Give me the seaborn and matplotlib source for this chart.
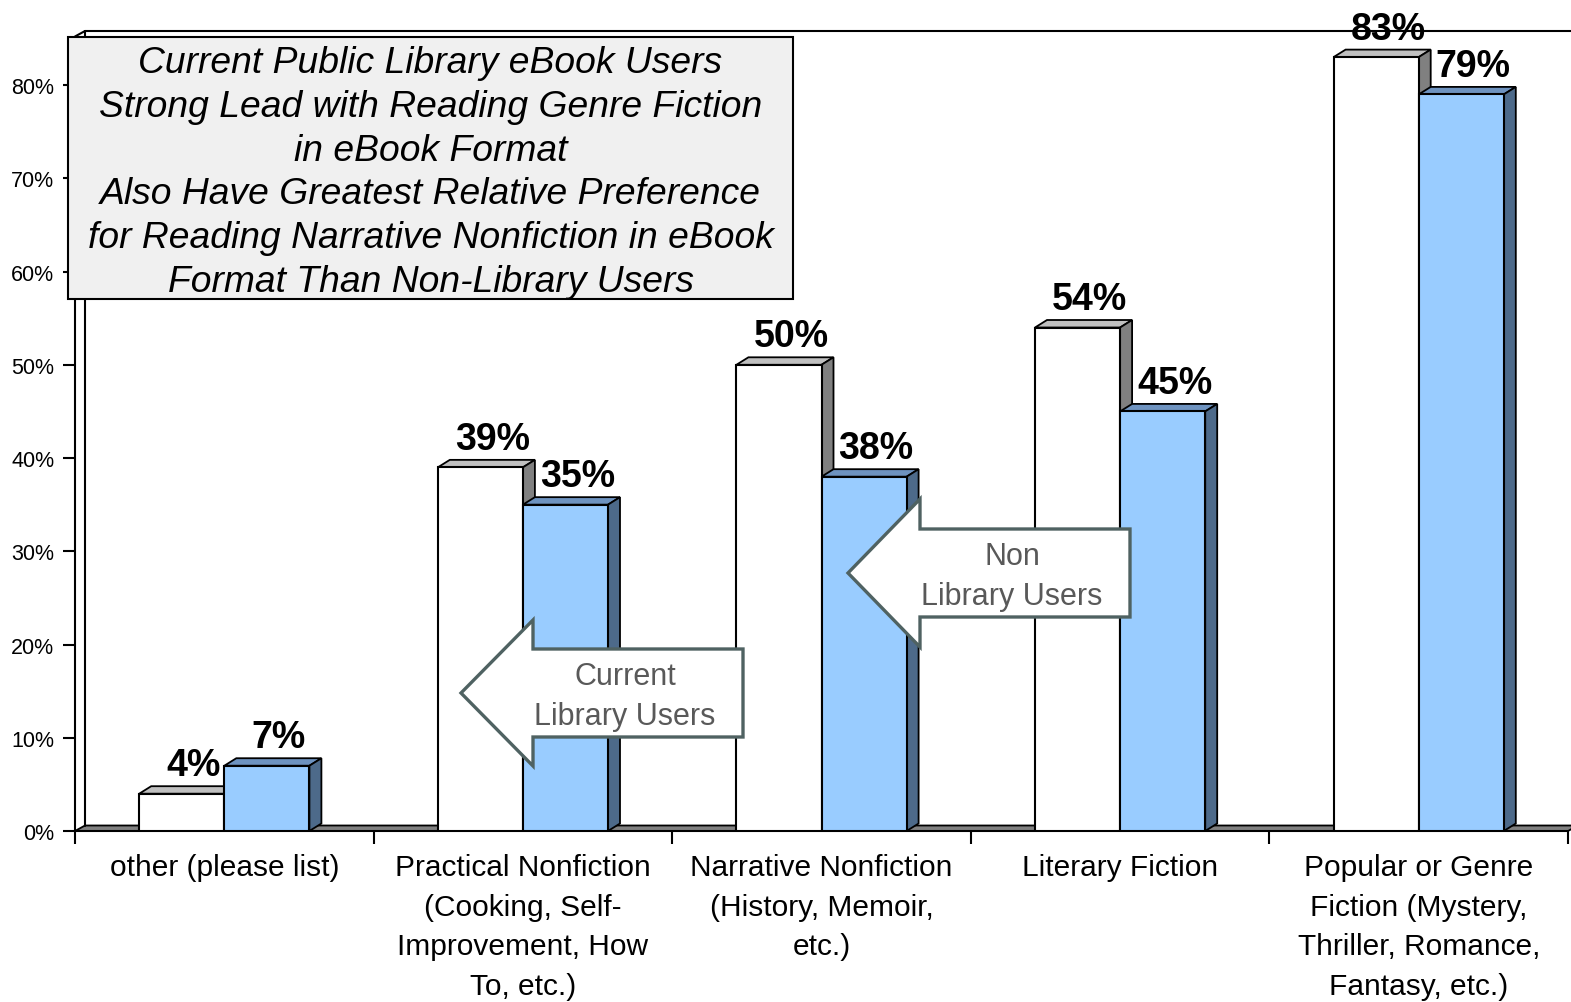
import pandas as pd
import matplotlib
matplotlib.use('Agg')
import matplotlib.pyplot as plt
from matplotlib.patches import Polygon, Rectangle
import seaborn as sns

# data
categories = ['other (please list)',
              'Practical Nonfiction\n(Cooking, Self-\nImprovement, How\nTo, etc.)',
              'Narrative Nonfiction\n(History, Memoir,\netc.)',
              'Literary Fiction',
              'Popular or Genre\nFiction (Mystery,\nThriller, Romance,\nFantasy, etc.)']
current_users = [4, 39, 50, 54, 83]
non_users = [7, 35, 38, 45, 79]
groups = ['Current Library Users', 'Non Library Users']
y_ticks = [0, 10, 20, 30, 40, 50, 60, 70, 80]
y_tick_labels = [f'{t}%' for t in y_ticks]
title_text = ('Current Public Library eBook Users\n'
              'Strong Lead with Reading Genre Fiction\n'
              'in eBook Format\n'
              'Also Have Greatest Relative Preference\n'
              'for Reading Narrative Nonfiction in eBook\n'
              'Format Than Non-Library Users')

df = pd.DataFrame({
    'Category': categories * 2,
    'Group': [groups[0]] * len(categories) + [groups[1]] * len(categories),
    'Share': current_users + non_users,
})

sns.set_style('white')
plt.rcParams['font.family'] = ['Liberation Sans', 'DejaVu Sans']
plt.rcParams['text.color'] = 'black'
plt.rcParams['xtick.color'] = 'black'
plt.rcParams['ytick.color'] = 'black'

W, H = 1571, 1003
fig = plt.figure(figsize=(W / 100, H / 100), dpi=100)
ax = fig.add_axes([75 / W, 1 - 832 / H, (1568 - 75) / W, (832 - 32) / H])

sns.barplot(data=df, x='Category', y='Share', hue='Group',
            palette=['#FFFFFF', '#99CCFF'], width=0.57, saturation=1,
            edgecolor='black', linewidth=1.5, legend=False, ax=ax)

xl, xr = -0.5, len(categories) - 0.5
top = 85.8
ax.set_xlim(xl, xr)
ax.set_ylim(0, top)
for s in ax.spines.values():
    s.set_visible(False)
ax.set_xlabel('')
ax.set_ylabel('')

# pixel -> data unit helpers for the fake 3D depth
pos = ax.get_position()
ppx = W * pos.width / (xr - xl)
ppy = H * pos.height / top
dx, dy = 12 / ppx, 7.5 / ppy
fdx, fdy = 10 / ppx, 5.5 / ppy

# floor and back wall
ax.add_patch(Polygon([(xl, 0), (xr, 0), (xr + fdx, fdy), (xl + fdx, fdy)],
                     closed=True, facecolor='#808080', edgecolor='black',
                     lw=1.3, zorder=1, clip_on=False))
ax.plot([xl, xl, xl + fdx], [0, top - fdy, top], color='black', lw=1.5,
        clip_on=False, zorder=1)
ax.plot([xl + fdx, xl + fdx], [fdy, top], color='black', lw=1.5, clip_on=False, zorder=1)
ax.plot([xl + fdx, xr + 1], [top, top], color='black', lw=1.5, clip_on=False, zorder=1)

# 3D tops / sides for each bar
face_colors = [('#C0C0C0', '#808080'), ('#6E93C0', '#4D6A8A')]
for i, cont in enumerate(ax.containers):
    topc, sidec = face_colors[i]
    z = 3 + 2 * i
    for bar in cont:
        x, w, h = bar.get_x(), bar.get_width(), bar.get_height()
        bar.set_zorder(z + 1)
        ax.add_patch(Polygon([(x, h), (x + w, h), (x + w + dx, h + dy), (x + dx, h + dy)],
                             closed=True, facecolor=topc, edgecolor='black', lw=1.3,
                             zorder=z, clip_on=False))
        ax.add_patch(Polygon([(x + w, 0), (x + w + dx, dy), (x + w + dx, h + dy), (x + w, h)],
                             closed=True, facecolor=sidec, edgecolor='black', lw=1.3,
                             zorder=z, clip_on=False))
        ax.text(x + w / 2 + dx, h + dy + 11 / ppy, f'{h:.0f}%', ha='center', va='baseline',
                fontsize=27, fontweight='bold', color='black', zorder=20, clip_on=False)

# axes ticks
ax.set_yticks(y_ticks)
ax.set_yticklabels(y_tick_labels, fontsize=15.5)
ax.tick_params(axis='y', length=9, width=1.5, pad=6, left=True, colors='black')
ax.plot([xl, xr], [0, 0], color='black', lw=1.5, clip_on=False, zorder=2)
ax.set_xticks(range(len(categories)))
ax.set_xticklabels(categories, fontsize=21.5, linespacing=1.52)
ax.tick_params(axis='x', which='major', length=0, pad=16)
ax.set_xticks([xl + k for k in range(len(categories) + 1)], minor=True)
ax.tick_params(axis='x', which='minor', length=9.5, width=1.5, bottom=True, colors='black')


def px(x, y):
    return (x / W, 1 - y / H)


def left_arrow(tip_x, cy, head_x, head_half, body_half, end_x):
    pts = [(tip_x, cy), (head_x, cy - head_half), (head_x, cy - body_half),
           (end_x, cy - body_half), (end_x, cy + body_half), (head_x, cy + body_half),
           (head_x, cy + head_half)]
    fig.add_artist(Polygon([px(*p) for p in pts], closed=True, transform=fig.transFigure,
                           facecolor='white', edgecolor='#4F6262', lw=2.4, zorder=30))


left_arrow(461, 694, 533, 73, 44, 743)
fig.text(*px(625, 697), 'Current\nLibrary Users', ha='center', va='center',
         fontsize=22, color='#595959', zorder=31, linespacing=1.42)
left_arrow(848, 574, 920, 74, 44, 1130)
fig.text(*px(1012, 577), 'Non\nLibrary Users', ha='center', va='center',
         fontsize=22, color='#595959', zorder=31, linespacing=1.42)

# title box
x0, y0 = px(68, 300)
x1, y1 = px(793, 38)
fig.add_artist(Rectangle((x0, y0), x1 - x0, y1 - y0, transform=fig.transFigure,
                         facecolor='#F0F0F0', edgecolor='black', lw=1.5, zorder=30))
fig.text(*px(430.5, 173), title_text, ha='center', va='center', fontsize=26.8,
         style='italic', linespacing=1.32, color='black', zorder=31)

fig.savefig('out.png', dpi=100)
